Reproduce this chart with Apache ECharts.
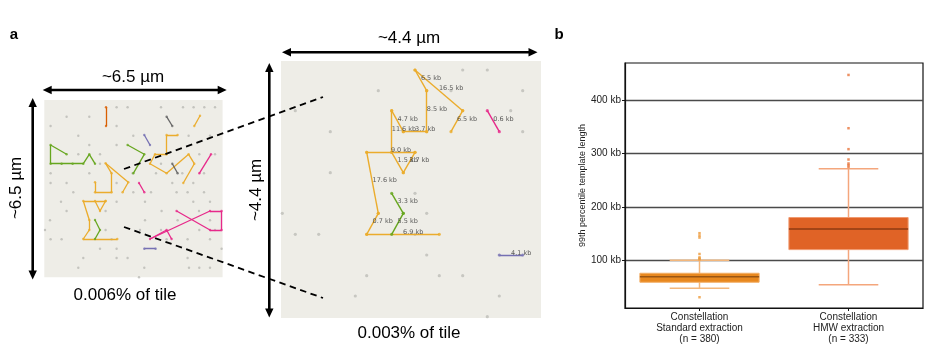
<!DOCTYPE html>
<html><head><meta charset="utf-8">
<script src="https://cdn.jsdelivr.net/npm/echarts@6/dist/echarts.min.js"></script>
<style>html,body{margin:0;padding:0;background:#fff}#c{width:933px;height:362px}</style>
</head><body><div id="c"></div>
<script>
// ================= DATA =================
// Panel a, left tile (coordinates in tile units, origin top-left)
const leftDots = [[72.3,7.3],[83.3,7.3],[116.7,7.3],[138.7,7.3],[149.3,7.3],[160,7.3],[170.7,7.3],
 [22.3,16.7],[45,16.7],[6.3,26],[72.3,26],[34,35.7],[89,35.7],[144.3,35.7],[165.7,35.7],
 [45,45],[72.3,45],[34,54.3],[55.7,54.3],[155,54.3],[170.7,54.3],[55.7,63.7],[116.7,63.7],
 [6.3,73.3],[45,73.3],[88.3,73.3],[111.7,73.3],[138,73.3],[159.7,73.3],
 [6.3,83],[22.3,83],[72.3,83],[128,83],[149,83],
 [29,92.3],[89,92.3],[106.7,92.3],[132.3,92.3],[143.3,92.3],[159.7,92.3],
 [16.7,101.7],[72.3,101.7],[100.7,101.7],[149,101.7],[165.7,101.7],
 [22.3,111],[61.3,111],[117.3,111],[154.7,111],
 [5.7,120.3],[100.7,120.3],[133.3,120.3],[165.7,120.3],
 [0.7,130],[61.3,130],[95.7,130],[116.7,130],[155,130],[170.7,130],
 [6.3,139.3],[17.3,139.3],[67.3,139.3],[122.3,139.3],[143.3,139.3],[165.7,139.3],
 [55.7,148.7],[72.3,148.7],[177.3,148.7],
 [39,158],[72.3,158],[83.3,158],[143.3,158],[165.7,158],
 [34,167.7],[100,167.7],[144.7,167.7],[155,167.7],[165.7,167.7],[94.7,177.3]];
const leftOrange = [
 [[155.7,15.7],[150,26]],
 [[133.3,35],[122.3,35],[122.3,54.3],[110.7,54.3],[105.7,63.7],[122.3,73.3],[144.3,54.3],[150,63.7],[139,83]],
 [[50.7,82.3],[50.7,92.3],[67.3,92.3],[67.3,73.3],[61.3,63.3],[84,82.3],[78.3,92.3]],
 [[61.3,101],[39,101],[45,120],[45,130],[39,139],[73,139]],
 [[50.7,101],[55.7,111],[61.3,101]]];
const leftRed = [[[61.7,7.3],[61.7,26]]];
const leftGrey = [[[122.3,16.7],[128,26]],[[128,63.7],[133.3,73.3]]];
const leftPurple = [[[100,35],[105.7,45]],[[100,148.7],[111.3,148.7]]];
const leftGreen = [
 [[22.3,54.3],[6.3,45],[6.3,63.7],[17.3,63.7],[28.3,63.7],[39,63.7],[45,54.3],[50.7,63.7]],
 [[83.3,45],[100,54.3],[89,73.3]],
 [[50.7,120],[55.7,130],[50.7,139]]];
const leftPink = [
 [[166.7,54.3],[155,73.3]],
 [[94.7,83],[100,92.3]],
 [[132.3,111],[165.7,130],[177.3,130],[177.3,111],[165.7,111],[105.7,139],[122.3,130],[127.3,139]]];

// Panel a, right tile
const rightDots = [[181.7,9],[206.3,9],[97.3,29.7],[170,29.7],[241.7,29.7],[14.3,49.7],[229.7,49.7],
 [49.3,70.7],[241.7,70.7],[49.3,111.7],[134,132.3],[1.3,152.3],[145.7,152.3],[14.3,173.3],[37.7,173.3],
 [134,173.3],[145.7,194],[85.7,214.7],[158.3,214.7],[181.7,214.7],[74.3,235],[218.3,235],[206.3,255.7]];
const rightOrangeSegs = [
 [134,9,145.7,29.7,'6.5 kb'],[134,9,181.7,49.7,'16.5 kb'],[145.7,29.7,145.7,70.7,'8.5 kb'],
 [181.7,49.7,170,70.7,'6.5 kb'],[110.7,49.7,122.3,70.7,'4.7 kb'],[122.3,70.7,145.7,70.7,'3.7 kb'],
 [110.7,49.7,110.7,91.3,'11.6 kb'],[85.7,91.3,134,91.3,'9.0 kb'],[110.7,91.3,122.3,111.7,'1.5 kb'],
 [122.3,111.7,134,91.3,'3.7 kb'],[85.7,91.3,97.3,152.3,'17.6 kb'],[97.3,152.3,85.7,173.3,'0.7 kb'],
 [85.7,173.3,158.3,173.3,'6.9 kb']];
const rightGreenSegs = [[110.7,132.3,122.3,152.3,'3.3 kb'],[122.3,152.3,110.7,173.3,'5.5 kb']];
const rightPinkSegs = [[206.3,49.7,218.3,70.7,'0.6 kb']];
const rightPurpleSegs = [[218.3,194,241.7,194,'4.1 kb']];

// Panel b
const boxCategories = ['Constellation\nStandard extraction\n(n = 380)', 'Constellation\nHMW extraction\n(n = 333)'];
const boxStats = [[47.6, 58.8, 69.2, 75.7, 100], [54.3, 120, 158.8, 180.2, 271.5]]; // min,q1,median,q3,max
const outliersStandard = [30.7, 101.8, 103.5, 105.5, 111.8, 142.6, 146.3, 150.8];
const outliersHMW = [275.3, 278.5, 281.6, 289, 308.4, 347.7, 447.6];
const yTicks = [100, 200, 300, 400];

// ================= STYLE / BUILD =================
const C = {orange:'#EBAC2C', red:'#D95F02', grey:'#666666', purple:'#7570B3', green:'#66A61E', pink:'#E7298A'};
const FONT = 'Liberation Sans';

function polySegs(polys){const o=[];polys.forEach(p=>{for(let i=0;i<p.length-1;i++)o.push({coords:[p[i],p[i+1]]});});return o;}
function polyVerts(polys){return polys.flat();}
function segCoords(segs){return segs.map(s=>({coords:[[s[0],s[1]],[s[2],s[3]]]}));}
function segVerts(segs){const o=[];segs.forEach(s=>{o.push([s[0],s[1]]);o.push([s[2],s[3]]);});return o;}
function segLabels(segs){return segs.map(s=>({value:[(s[0]+s[2])/2,(s[1]+s[3])/2],name:s[4]}));}

const series = [];
function addGroup(idx, segData, verts, color, lw, ds){
  series.push({type:'lines', coordinateSystem:'cartesian2d', xAxisIndex:idx, yAxisIndex:idx, silent:true, z:3,
    data:segData, lineStyle:{color:color, width:lw, opacity:1}});
  series.push({type:'scatter', xAxisIndex:idx, yAxisIndex:idx, silent:true, z:4, data:verts,
    symbolSize:ds, itemStyle:{color:color}});
}
// left tile
series.push({type:'scatter', xAxisIndex:0, yAxisIndex:0, silent:true, z:2, data:leftDots, symbolSize:2.4, itemStyle:{color:'#B9B9B4'}});
[[leftOrange,C.orange],[leftRed,C.red],[leftGrey,C.grey],[leftPurple,C.purple],[leftGreen,C.green],[leftPink,C.pink]]
 .forEach(([p,c])=>addGroup(0, polySegs(p), polyVerts(p), c, 1.3, 2.4));
// right tile
series.push({type:'scatter', xAxisIndex:1, yAxisIndex:1, silent:true, z:2, data:rightDots, symbolSize:3.2, itemStyle:{color:'#BDBDB8'}});
[[rightOrangeSegs,C.orange],[rightGreenSegs,C.green],[rightPinkSegs,C.pink],[rightPurpleSegs,C.purple]]
 .forEach(([s,c])=>{
   addGroup(1, segCoords(s), segVerts(s), c, 1.4, 3.2);
   series.push({type:'scatter', xAxisIndex:1, yAxisIndex:1, silent:true, z:6, data:segLabels(s),
     symbolSize:0.1, itemStyle:{color:'transparent'},
     label:{show:true, position:'right', distance:0, offset:[0,-2], formatter:'{b}', fontSize:6.5,
       color:'#333', fontFamily:'DejaVu Sans'}});
 });

// box plot
const boxCol = [
  {fill:'#E8881F', edge:'#F2AE66', median:'#9A5512', whisker:'#F3B77C', out:'#EE9A3A'},
  {fill:'#E06326', edge:'#F09A70', median:'#8F3A12', whisker:'#F4A67C', out:'#E8763C'}];
series.push({type:'custom', xAxisIndex:2, yAxisIndex:2, z:5, silent:true,
  data: boxStats.map((s,i)=>[i].concat(s)),
  renderItem(params, api){
    const i = api.value(0), c = boxCol[i];
    const bw = api.size([1,0])[0]*0.8;
    const x = api.coord([i, api.value(3)])[0];
    const y = k => api.coord([i, api.value(k)])[1];
    const yMin=y(1), yQ1=y(2), yMed=y(3), yQ3=y(4), yMax=y(5);
    const wl = {stroke:c.whisker, lineWidth:1.5};
    return {type:'group', children:[
      {type:'line', shape:{x1:x,y1:yMin,x2:x,y2:yQ1}, style:wl},
      {type:'line', shape:{x1:x,y1:yQ3,x2:x,y2:yMax}, style:wl},
      {type:'line', shape:{x1:x-bw/4,y1:yMin,x2:x+bw/4,y2:yMin}, style:wl},
      {type:'line', shape:{x1:x-bw/4,y1:yMax,x2:x+bw/4,y2:yMax}, style:wl},
      {type:'rect', shape:{x:x-bw/2,y:yQ3,width:bw,height:yQ1-yQ3}, style:{fill:c.fill, stroke:c.edge, lineWidth:1}},
      {type:'line', shape:{x1:x-bw/2,y1:yMed,x2:x+bw/2,y2:yMed}, style:{stroke:c.median, lineWidth:1.6}}
    ]};
  }});
[outliersStandard, outliersHMW].forEach((arr,i)=>{
  series.push({type:'scatter', xAxisIndex:2, yAxisIndex:2, z:6, silent:true, symbol:'rect', symbolSize:2.5,
    data:arr.map(v=>[i,v]), itemStyle:{color:boxCol[i].out}});
});

// ---------- graphic annotations ----------
function arrow(x1,y1,x2,y2){
  const dx=x2-x1, dy=y2-y1, L=Math.hypot(dx,dy), ux=dx/L, uy=dy/L, px=-uy, py=ux, hl=9, hw=4.2;
  const head=(tx,ty,sx)=>({type:'polygon', z:50, shape:{points:[[tx,ty],
    [tx+sx*ux*hl+px*hw, ty+sx*uy*hl+py*hw],[tx+sx*ux*hl-px*hw, ty+sx*uy*hl-py*hw]]}, style:{fill:'#000'}});
  return [
    {type:'line', z:50, shape:{x1:x1+ux*6,y1:y1+uy*6,x2:x2-ux*6,y2:y2-uy*6}, style:{stroke:'#000', lineWidth:2.6}},
    head(x1,y1,1), head(x2,y2,-1)];
}
function txt(x,y,t,size,rot,bold){
  return {type:'text', z:50, x:x, y:y, rotation:rot||0,
    style:{text:t, x:0, y:0, align:'center', verticalAlign:'middle', fill:'#000',
      font:(bold?'bold ':'')+size+'px "'+FONT+'"'}};
}
const graphic = [].concat(
  arrow(42.7,90,226.7,90), arrow(32.7,98,32.7,279.5),
  arrow(282,52.3,537.5,52.3), arrow(269.3,63,269.3,317.5),
  [
   txt(133,77,'~6.5 µm',17), txt(16,188,'~6.5 µm',17,Math.PI/2),
   txt(409,38,'~4.4 µm',17), txt(256,190,'~4.4 µm',17,Math.PI/2),
   txt(125,295,'0.006% of tile',17), txt(409,333,'0.003% of tile',17),
   txt(14,34.5,'a',15,0,true), txt(559,34.5,'b',15,0,true),
   {type:'line', z:60, shape:{x1:124,y1:169,x2:323,y2:97}, style:{stroke:'#000', lineWidth:1.8, lineDash:[6.5,4.5]}},
   {type:'line', z:60, shape:{x1:124,y1:227,x2:323,y2:298}, style:{stroke:'#000', lineWidth:1.8, lineDash:[6.5,4.5]}}
  ]);

const tileAxisX = (gi,max)=>({type:'value', gridIndex:gi, min:0, max:max, show:false});
const tileAxisY = (gi,max)=>({type:'value', gridIndex:gi, min:0, max:max, show:false, inverse:true});

const option = {
  animation:false,
  backgroundColor:'#fff',
  textStyle:{fontFamily:FONT},
  grid:[
    {left:44.3, top:100, width:178.3, height:177.3, show:true, backgroundColor:'#EEEDE7', borderWidth:0},
    {left:281, top:61, width:260, height:257, show:true, backgroundColor:'#EEEDE7', borderWidth:0},
    {left:625, top:63, width:298, height:245, show:true, backgroundColor:'transparent', borderColor:'#111', borderWidth:1.2}
  ],
  xAxis:[tileAxisX(0,178.3), tileAxisX(1,260),
    {type:'category', gridIndex:2, data:boxCategories,
     axisLine:{show:true, lineStyle:{color:'#111', width:1.2}},
     axisTick:{show:true, alignWithLabel:true, length:3, lineStyle:{color:'#111'}},
     axisLabel:{fontSize:10, color:'#222', lineHeight:11, margin:4, fontFamily:FONT},
     splitLine:{show:false}}],
  yAxis:[tileAxisY(0,177.3), tileAxisY(1,257),
    {type:'value', gridIndex:2, min:10.5, max:470,
     name:'99th percentile template length', nameLocation:'middle', nameGap:37,
     nameTextStyle:{fontSize:9, color:'#222', fontFamily:FONT},
     axisLine:{show:true, lineStyle:{color:'#111', width:1.2}},
     axisTick:{show:true, length:3, customValues:yTicks, lineStyle:{color:'#111'}},
     axisLabel:{fontSize:10, color:'#222', margin:4, customValues:yTicks, showMinLabel:true, showMaxLabel:true,
       formatter:v=>v+' kb'},
     splitLine:{show:true, lineStyle:{color:'#4a4a4a', width:1.3}}}],
  series:series,
  graphic:graphic
};
const chart = echarts.init(document.getElementById('c'), null, {renderer:'canvas'});
chart.setOption(option);
</script></body></html>
